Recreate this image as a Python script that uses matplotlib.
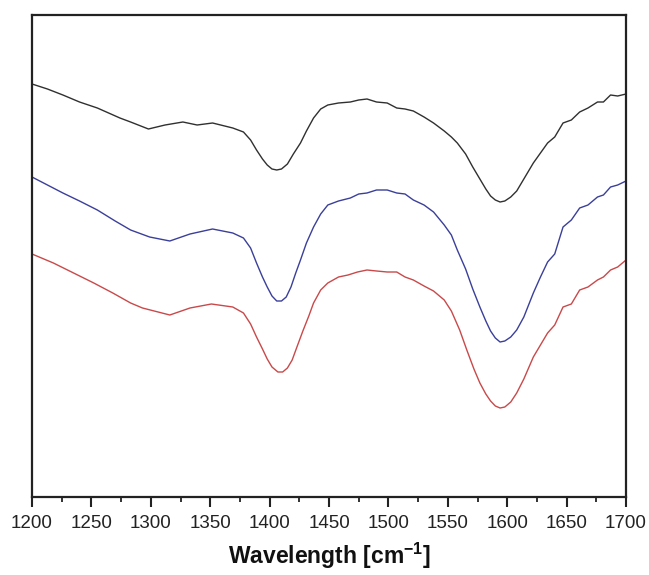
import matplotlib
matplotlib.use("Agg")
import matplotlib.pyplot as plt
from matplotlib.ticker import MultipleLocator

plt.rcParams['font.family'] = ['Liberation Sans', 'DejaVu Sans']
plt.rcParams['mathtext.fontset'] = 'custom'
plt.rcParams['mathtext.rm'] = 'Liberation Sans'
plt.rcParams['mathtext.bf'] = 'Liberation Sans:bold'

# Wavenumbers (cm^-1) and intensities (arbitrary units)
wn_black = [1200, 1213, 1226, 1240, 1255, 1274, 1283, 1298, 1305, 1312, 1327, 1339,
            1352, 1369, 1378, 1384, 1389, 1394, 1398, 1402, 1406, 1410, 1415, 1420,
            1426, 1431, 1437, 1443, 1449, 1458, 1468, 1475, 1482, 1490, 1499, 1507,
            1514, 1521, 1530, 1538, 1547, 1553, 1558, 1565, 1571, 1577, 1582, 1586,
            1590, 1594, 1598, 1603, 1608, 1614, 1622, 1628, 1634, 1640, 1647, 1654,
            1661, 1668, 1676, 1681, 1687, 1693, 1700]
y_black = [413, 408, 402, 395, 389, 379, 375, 368, 370, 372, 375, 372,
           374, 369, 365, 357, 347, 338, 332, 328, 327, 328, 333, 343,
           354, 366, 379, 388, 392, 394, 395, 397, 398, 395, 394, 389,
           388, 386, 380, 374, 366, 360, 354, 343, 330, 318, 308, 301,
           297, 295, 296, 300, 306, 318, 334, 344, 354, 360, 374, 377,
           385, 389, 395, 395, 402, 401, 403]

wn_blue = [1200, 1213, 1226, 1240, 1255, 1270, 1283, 1299, 1316, 1333, 1352, 1369,
           1378, 1384, 1389, 1394, 1398, 1402, 1406, 1410, 1414, 1418, 1422, 1426,
           1431, 1437, 1443, 1449, 1458, 1468, 1475, 1482, 1490, 1499, 1507, 1514,
           1521, 1530, 1538, 1547, 1553, 1558, 1565, 1571, 1577, 1582, 1586, 1590,
           1594, 1598, 1603, 1608, 1614, 1622, 1628, 1634, 1640, 1647, 1654, 1661,
           1668, 1676, 1681, 1687, 1693, 1700]
y_blue = [320, 312, 304, 296, 287, 276, 267, 260, 256, 263, 268, 264,
          259, 249, 234, 220, 210, 201, 196, 196, 200, 210, 224, 237,
          254, 270, 283, 292, 296, 299, 303, 304, 307, 307, 304, 303,
          297, 292, 285, 272, 262, 247, 228, 208, 190, 176, 166, 159,
          155, 156, 160, 167, 180, 204, 220, 235, 243, 270, 277, 289,
          292, 300, 302, 310, 312, 316]

wn_red = [1200, 1218, 1235, 1252, 1268, 1283, 1293, 1316, 1333, 1351, 1369, 1378,
          1384, 1389, 1394, 1398, 1402, 1407, 1411, 1415, 1419, 1423, 1428, 1433,
          1437, 1443, 1449, 1458, 1466, 1474, 1482, 1490, 1499, 1507, 1514, 1521,
          1530, 1538, 1547, 1553, 1560, 1566, 1572, 1577, 1582, 1586, 1590, 1594,
          1598, 1603, 1608, 1614, 1622, 1628, 1634, 1640, 1647, 1654, 1661, 1668,
          1676, 1681, 1687, 1693, 1700]
y_red = [243, 234, 224, 214, 204, 194, 189, 182, 189, 193, 190, 184,
         173, 160, 148, 138, 130, 125, 125, 129, 137, 150, 166, 181,
         194, 207, 214, 220, 222, 225, 227, 226, 225, 225, 220, 217,
         211, 206, 197, 186, 167, 147, 128, 114, 103, 96, 91, 89,
         90, 95, 104, 118, 140, 152, 164, 172, 190, 193, 207, 210,
         217, 220, 227, 230, 237]

x_ticks = [1200, 1250, 1300, 1350, 1400, 1450, 1500, 1550, 1600, 1650, 1700]
x_label = r"Wavelength [cm$^{\mathbf{-1}}$]"

fig = plt.figure(figsize=(6.49, 5.75), dpi=100)
ax = fig.add_axes([32 / 649, 1 - 497 / 575, (626 - 32) / 649, (497 - 15) / 575])

ax.plot(wn_black, y_black, color='#303030', lw=1.0)
ax.plot(wn_blue, y_blue, color='#3a3f9a', lw=1.0)
ax.plot(wn_red, y_red, color='#c9494a', lw=1.0)

ax.set_xlim(1200, 1700)
ax.set_ylim(0, 482)
ax.set_xticks(x_ticks)
ax.xaxis.set_minor_locator(MultipleLocator(25))
ax.set_yticks([])
ax.tick_params(axis='x', which='major', direction='out', length=7, width=1.5,
               labelsize=13.5, pad=6, colors='#222222', labelcolor='#222222')
ax.tick_params(axis='x', which='minor', direction='out', length=3.5, width=1.3,
               colors='#222222')
for s in ax.spines.values():
    s.set_linewidth(1.6)
    s.set_color('#222222')

ax.set_xlabel(x_label, fontsize=16.5, fontweight='bold', labelpad=6, color='#111111')

fig.savefig('out.png', dpi=100)
